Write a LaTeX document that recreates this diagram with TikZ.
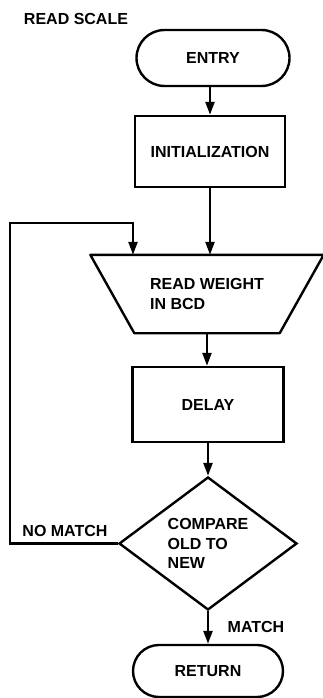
\documentclass[tikz,border=0pt]{standalone}
\usepackage{fontspec}
\setmainfont{Liberation Sans}
\usetikzlibrary{arrows.meta,shapes.geometric,calc}
\begin{document}
\begin{tikzpicture}[x=1pt,y=-1pt,
  every node/.style={font=\fontsize{16}{19.5}\selectfont\bfseries, inner sep=0pt},
  lw/.style={line width=2.4pt},
  term/.style={lw, draw, rounded corners=26pt, minimum width=150pt, minimum height=54pt},
  procbox/.style={lw, draw, minimum width=150pt, minimum height=72pt},
  decbox/.style={lw, draw, diamond, minimum width=178pt, minimum height=133pt, align=left},
  arr/.style={lw, -{Triangle[length=13pt,width=9pt]}},
  plain/.style={lw}
]
\useasboundingbox (0,0) rectangle (323,698);

\node (title) at (76,18.5) {READ SCALE};
\node[term, minimum width=153pt, minimum height=56pt, rounded corners=28pt] (entry) at (213,58) {ENTRY};
\node[procbox, minimum height=71pt] (init) at (210,151.5) {INITIALIZATION};
\node[minimum width=145pt, minimum height=78pt, align=left] (read) at (207,294) {READ WEIGHT\\IN BCD};
\draw[lw, line join=round] ($(read.north west)+(-44,0)$) -- ($(read.north east)+(44,0)$)
   -- (read.south east) -- (read.south west) -- cycle;
\node[procbox, minimum width=151pt, minimum height=75pt] (delay) at (208,404.5) {DELAY};
\node[decbox] (cmp) at (208,543.5) {COMPARE\\OLD TO\\NEW};
\node[term, minimum width=150pt, minimum height=52pt] (ret) at (208,671) {RETURN};

\node (nomatch) at (65,531) {NO MATCH};
\node (match) at (256,627) {MATCH};

\coordinate (loopL) at (10,223);
\coordinate (loopT) at ($(read.north)+(-74,0)$);

\draw[arr] (entry.south -| init.north) -- (init.north);
\draw[arr] (init.south) -- (init.south |- read.north);
\draw[arr] (read.south) -- (read.south |- delay.north);
\draw[arr] (delay.south) -- (cmp.north);
\draw[arr] (cmp.south) -- (ret.north);
\draw[arr, rounded corners=0pt] (cmp.west) -| (loopL) -| (loopT);
\end{tikzpicture}
\end{document}
